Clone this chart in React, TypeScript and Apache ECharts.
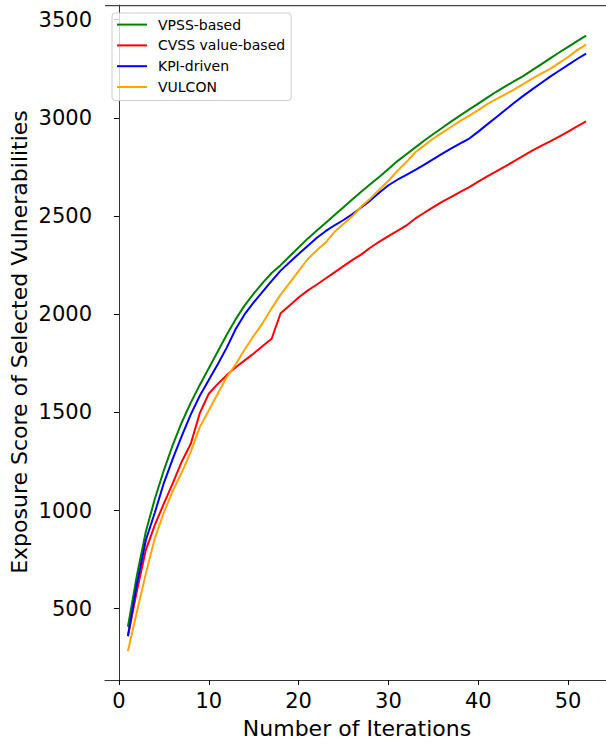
import React, { useEffect, useRef } from "react";
import * as echarts from "echarts";

const iterations = Array.from({ length: 52 }, (_, i) => i + 1);

const vpssBased = [
  408, 670, 893, 1060, 1205, 1335, 1450, 1550, 1640, 1725,
  1810, 1895, 1975, 2045, 2105, 2160, 2210, 2250, 2295, 2340,
  2385, 2425, 2465, 2505, 2545, 2585, 2625, 2663, 2700, 2740,
  2780, 2815, 2850, 2885, 2918, 2950, 2982, 3013, 3043, 3073,
  3103, 3133, 3160, 3187, 3213, 3243, 3273, 3303, 3333, 3362,
  3391, 3419,
];

const cvssValueBased = [
  360, 590, 800, 927, 1035, 1140, 1250, 1340, 1496, 1595,
  1645, 1690, 1730, 1765, 1800, 1838, 1875, 2005, 2045, 2085,
  2120, 2150, 2182, 2213, 2245, 2277, 2305, 2340, 2370, 2398,
  2425, 2452, 2488, 2517, 2545, 2573, 2598, 2623, 2647, 2675,
  2702, 2727, 2753, 2780, 2807, 2833, 2857, 2880, 2905, 2930,
  2957, 2982,
];

const kpiDriven = [
  361, 625, 850, 990, 1140, 1265, 1380, 1490, 1585, 1665,
  1745, 1830, 1925, 2000, 2060, 2115, 2170, 2222, 2265, 2307,
  2348, 2388, 2423, 2453, 2480, 2510, 2545, 2580, 2620, 2657,
  2685, 2710, 2735, 2762, 2790, 2818, 2845, 2870, 2895, 2930,
  2967, 3003, 3040, 3077, 3112, 3145, 3178, 3210, 3240, 3270,
  3300, 3327,
];

const vulcon = [
  284, 485, 680, 860, 990, 1100, 1195, 1300, 1425, 1510,
  1595, 1680, 1745, 1820, 1890, 1955, 2030, 2100, 2160, 2220,
  2280, 2325, 2365, 2420, 2460, 2500, 2550, 2590, 2635, 2680,
  2730, 2775, 2825, 2860, 2895, 2925, 2955, 2985, 3012, 3040,
  3070, 3095, 3120, 3145, 3172, 3200, 3225, 3250, 3280, 3310,
  3345, 3373,
];

const xTicks = [0, 10, 20, 30, 40, 50];
const yTicks = [500, 1000, 1500, 2000, 2500, 3000, 3500];

const seriesNames = ["VPSS-based", "CVSS value-based", "KPI-driven", "VULCON"];
const seriesColors = ["#008000", "#ff0000", "#0000ff", "#ffa500"];
const seriesValues = [vpssBased, cvssValueBased, kpiDriven, vulcon];

const FONT = "DejaVu Sans";

export default function App() {
  const ref = useRef<HTMLDivElement>(null);

  useEffect(() => {
    if (!ref.current) return;
    const chart = echarts.init(ref.current, null, { renderer: "svg" });
    chart.setOption({
      animation: false,
      backgroundColor: "#ffffff",
      textStyle: { fontFamily: FONT },
      grid: {
        left: 105,
        top: 5,
        width: 504,
        height: 675,
        outerBoundsMode: "none",
        containLabel: false,
        show: false,
      },
      legend: {
        orient: "vertical",
        left: 112,
        top: 13,
        padding: [3.6, 6, 5.5, 5],
        itemGap: 4.8,
        itemWidth: 30,
        itemHeight: 2,
        icon: "rect",
        backgroundColor: "rgba(255,255,255,0.8)",
        borderColor: "#cccccc",
        borderWidth: 1,
        borderRadius: 3,
        textStyle: {
          fontFamily: FONT,
          fontSize: 14,
          lineHeight: 16,
          color: "#000",
          padding: [0, 0, 0, 6],
        },
        data: seriesNames,
      },
      xAxis: {
        type: "value",
        min: -1.55,
        max: 54.55,
        axisLine: { show: true, lineStyle: { color: "#333", width: 1 } },
        axisTick: {
          show: true,
          length: 5,
          customValues: xTicks,
          lineStyle: { color: "#000", width: 1 },
        },
        axisLabel: {
          customValues: xTicks,
          formatter: (v: number) => String(v),
          fontFamily: FONT,
          fontSize: 21,
          color: "#000",
          margin: 10,
        },
        splitLine: { show: false },
      },
      yAxis: {
        type: "value",
        min: 137,
        max: 3575,
        axisLine: { show: true, lineStyle: { color: "#333", width: 1 } },
        axisTick: {
          show: true,
          length: 5,
          customValues: yTicks,
          lineStyle: { color: "#000", width: 1 },
        },
        axisLabel: {
          customValues: yTicks,
          formatter: (v: number) => String(v),
          fontFamily: FONT,
          fontSize: 21,
          color: "#000",
          margin: 13,
        },
        splitLine: { show: false },
      },
      graphic: [
        {
          type: "rect",
          left: 105,
          top: 5,
          shape: { x: 0, y: 0, width: 501, height: 1.2 },
          style: { fill: "#444" },
          silent: true,
          z: 10,
        },
        {
          type: "text",
          x: 357,
          y: 728,
          style: {
            text: "Number of Iterations",
            font: `22px "${FONT}"`,
            fill: "#000",
            align: "center",
            verticalAlign: "middle",
          },
        },
        {
          type: "text",
          x: 19.5,
          y: 342,
          rotation: Math.PI / 2,
          style: {
            text: "Exposure Score of Selected Vulnerabilities",
            font: `22px "${FONT}"`,
            fill: "#000",
            align: "center",
            verticalAlign: "middle",
          },
        },
      ],
      series: seriesNames.map((name, k) => ({
        name,
        type: "line",
        showSymbol: false,
        symbol: "none",
        color: seriesColors[k],
        lineStyle: { color: seriesColors[k], width: 2 },
        data: iterations.map((it, i) => [it, seriesValues[k][i]]),
      })),
    });
    return () => chart.dispose();
  }, []);

  return (
    <div
      ref={ref}
      style={{ position: "fixed", left: 0, top: 0, width: 606, height: 744 }}
    />
  );
}
